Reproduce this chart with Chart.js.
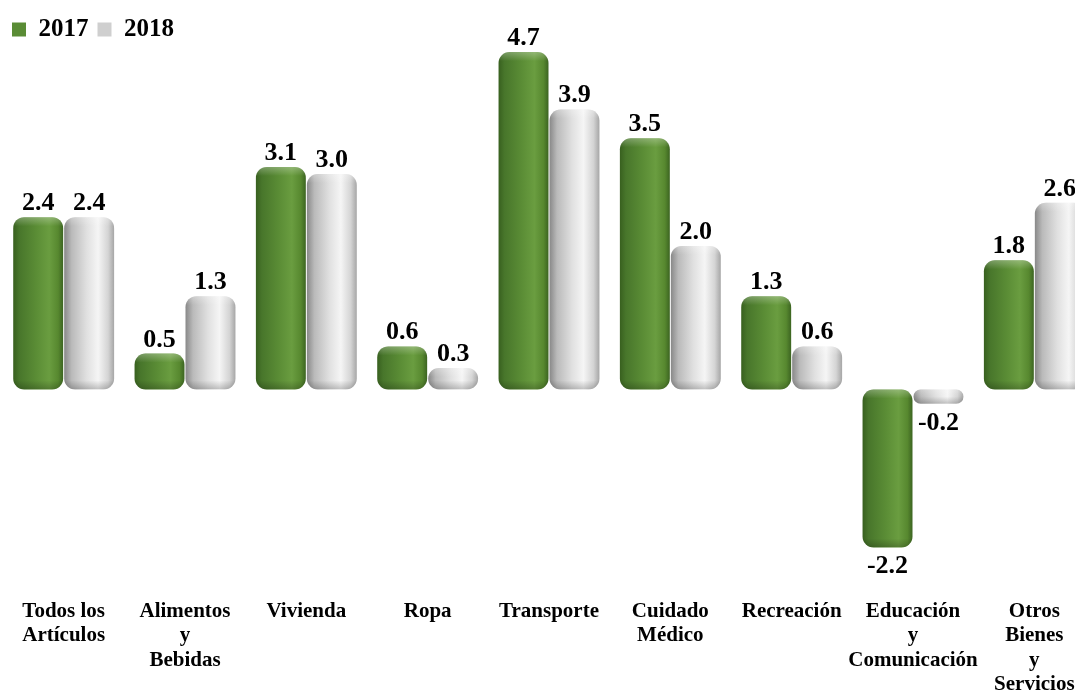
<!DOCTYPE html>
<html>
<head>
<meta charset="utf-8">
<script src="https://cdn.jsdelivr.net/npm/chart.js@4/dist/chart.umd.min.js"></script>
<style>
    html, body { margin: 0; padding: 0; background: #ffffff; overflow: hidden; }
    #wrap { width: 1075px; height: 693px; overflow: hidden; }
    canvas { display: block; }
</style>
</head>
<body>
<div id="wrap">
    <canvas id="cpiChart" width="1098" height="693"></canvas>
</div>
<script>
// Variación porcentual por grupo de artículos
const categories = [
    ['Todos los', 'Artículos'],
    ['Alimentos', 'y', 'Bebidas'],
    'Vivienda',
    'Ropa',
    'Transporte',
    ['Cuidado', 'Médico'],
    'Recreación',
    ['Educación', 'y', 'Comunicación'],
    ['Otros', 'Bienes', 'y', 'Servicios']
];
const values2017 = [2.4, 0.5, 3.1, 0.6, 4.7, 3.5, 1.3, -2.2, 1.8];
const values2018 = [2.4, 1.3, 3.0, 0.3, 3.9, 2.0, 0.6, -0.2, 2.6];
const seriesLabels = ['2017', '2018'];

const CAT_PCT = 0.84;
const BAR_PCT = 0.98;
const SERIF = "'Liberation Serif', 'Times New Roman', serif";

const greenStops = [
    [0, '#38601f'], [0.12, '#48762b'], [0.45, '#5a8c35'],
    [0.72, '#6a9d40'], [0.9, '#57882f'], [1, '#3c6421']
];
const grayStops = [
    [0, '#888888'], [0.15, '#bababa'], [0.45, '#e0e0e0'],
    [0.68, '#f5f5f5'], [0.88, '#d4d4d4'], [1, '#a6a6a6']
];

// cylinder shading across the width of each bar
function barGradient(context, stops) {
    const chart = context.chart;
    const xs = chart.scales.x;
    if (!xs || !chart.chartArea) return stops[2][1];
    const cat = (xs.right - xs.left) / categories.length;
    const slot = cat * CAT_PCT / 2;
    const w = slot * BAR_PCT;
    const cx = xs.getPixelForValue(context.dataIndex) + (context.datasetIndex - 0.5) * slot;
    const g = chart.ctx.createLinearGradient(cx - w / 2, 0, cx + w / 2, 0);
    stops.forEach(([p, c]) => g.addColorStop(p, c));
    return g;
}

// light cap on top, soft shade at the bottom of every bar
const barShine = {
    id: 'barShine',
    afterDatasetsDraw(chart) {
        const ctx = chart.ctx;
        chart.data.datasets.forEach((ds, i) => {
            chart.getDatasetMeta(i).data.forEach(bar => {
                const top = Math.min(bar.y, bar.base);
                const bottom = Math.max(bar.y, bar.base);
                const h = bottom - top;
                const left = bar.x - bar.width / 2;
                const r = Math.min(11, h / 2, bar.width / 2);
                ctx.save();
                ctx.beginPath();
                ctx.roundRect(left, top, bar.width, h, r);
                ctx.clip();
                const g = ctx.createLinearGradient(0, top, 0, bottom);
                const e = Math.min(0.5, 9 / Math.max(h, 1));
                g.addColorStop(0, 'rgba(255,255,255,0.28)');
                g.addColorStop(e, 'rgba(255,255,255,0)');
                g.addColorStop(1 - e, 'rgba(0,0,0,0)');
                g.addColorStop(1, 'rgba(0,0,0,0.22)');
                ctx.fillStyle = g;
                ctx.fillRect(left, top, bar.width, h);
                ctx.restore();
            });
        });
    }
};

// value written above positive bars and below negative ones
const valueLabels = {
    id: 'valueLabels',
    afterDatasetsDraw(chart) {
        const ctx = chart.ctx;
        ctx.save();
        ctx.font = 'bold 26px ' + SERIF;
        ctx.fillStyle = '#000000';
        ctx.textAlign = 'center';
        chart.data.datasets.forEach((ds, i) => {
            chart.getDatasetMeta(i).data.forEach((bar, j) => {
                const v = ds.data[j];
                if (v >= 0) {
                    ctx.textBaseline = 'alphabetic';
                    ctx.fillText(v.toFixed(1), bar.x, bar.y - 7);
                } else {
                    ctx.textBaseline = 'top';
                    ctx.fillText(v.toFixed(1), bar.x, bar.y + 6);
                }
            });
        });
        ctx.restore();
    }
};

new Chart(document.getElementById('cpiChart'), {
    type: 'bar',
    data: {
        labels: categories,
        datasets: [{
            label: seriesLabels[0],
            data: values2017,
            backgroundColor: (c) => barGradient(c, greenStops),
            borderWidth: 0,
            borderRadius: 11,
            borderSkipped: false,
            categoryPercentage: CAT_PCT,
            barPercentage: BAR_PCT
        }, {
            label: seriesLabels[1],
            data: values2018,
            backgroundColor: (c) => barGradient(c, grayStops),
            borderWidth: 0,
            borderRadius: 11,
            borderSkipped: false,
            categoryPercentage: CAT_PCT,
            barPercentage: BAR_PCT
        }]
    },
    options: {
        responsive: false,
        devicePixelRatio: 1,
        animation: false,
        layout: {
            padding: { left: 3, right: 3, top: 8, bottom: 0 }
        },
        plugins: {
            tooltip: { enabled: false },
            legend: {
                position: 'top',
                align: 'start',
                labels: {
                    boxWidth: 14,
                    boxHeight: 14,
                    padding: 9,
                    color: '#000000',
                    font: { family: SERIF, size: 25, weight: 'bold' },
                    generateLabels: () => [
                        { text: seriesLabels[0], fillStyle: '#5a8c35', strokeStyle: '#5a8c35', lineWidth: 0, datasetIndex: 0 },
                        { text: seriesLabels[1], fillStyle: '#cfcfcf', strokeStyle: '#cfcfcf', lineWidth: 0, datasetIndex: 1 }
                    ]
                }
            }
        },
        scales: {
            x: {
                // tick marks are hidden, their length only pushes the labels down
                grid: { display: false, drawTicks: true, tickLength: 30 },
                border: { display: false },
                afterFit: (scale) => { scale.height = 124; },
                ticks: {
                    color: '#000000',
                    padding: 0,
                    maxRotation: 0,
                    autoSkip: false,
                    font: { family: SERIF, size: 21, weight: 'bold', lineHeight: 1.17 }
                }
            },
            y: {
                display: false,
                min: -2.5,
                max: 4.7
            }
        }
    },
    plugins: [barShine, valueLabels]
});
</script>
</body>
</html>
